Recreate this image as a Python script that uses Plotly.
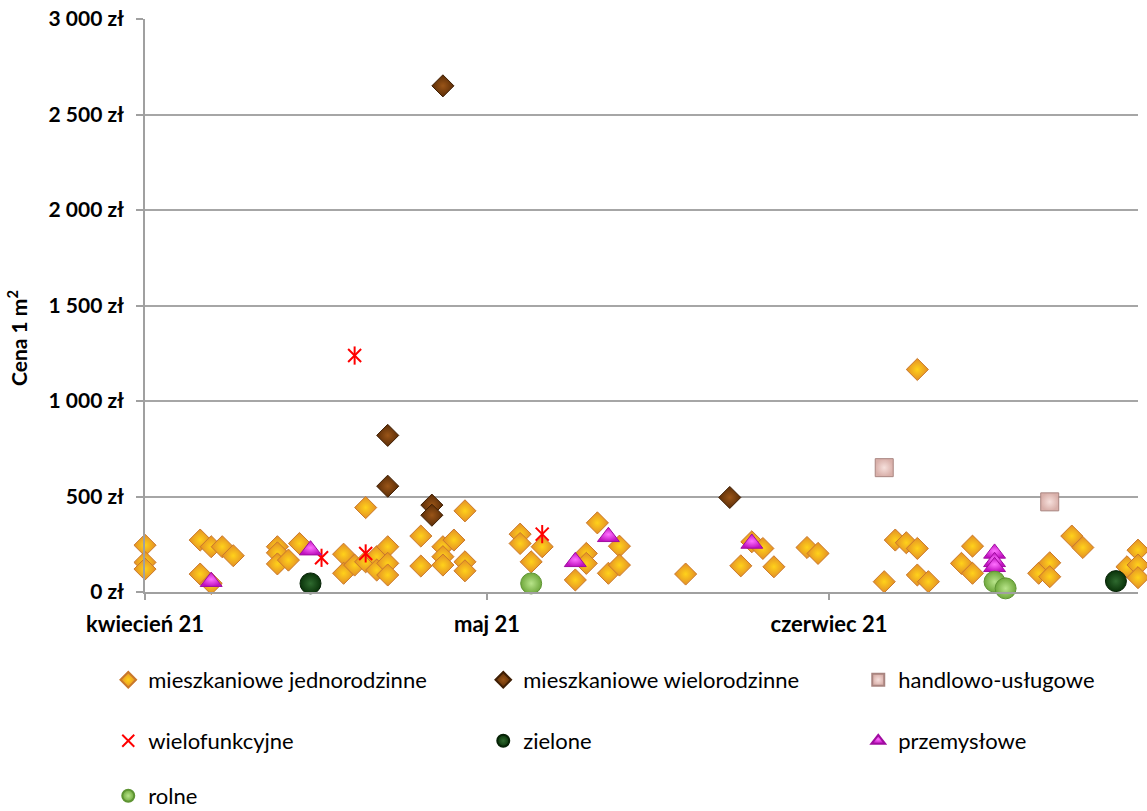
import plotly.graph_objects as go

# --- transaction data: date of sale and price per m2 (zł) by land use ---
jedno_dates = [
    "2021-04-01", "2021-04-01", "2021-04-01", "2021-04-06", "2021-04-06",
    "2021-04-07", "2021-04-07", "2021-04-08", "2021-04-09", "2021-04-13",
    "2021-04-13", "2021-04-13", "2021-04-14", "2021-04-15", "2021-04-19",
    "2021-04-19", "2021-04-20", "2021-04-21", "2021-04-21", "2021-04-22",
    "2021-04-22", "2021-04-23", "2021-04-23", "2021-04-23", "2021-04-26",
    "2021-04-26", "2021-04-28", "2021-04-28", "2021-04-28", "2021-04-29",
    "2021-04-30", "2021-04-30", "2021-04-30", "2021-05-05", "2021-05-05",
    "2021-05-06", "2021-05-07", "2021-05-10", "2021-05-11", "2021-05-11",
    "2021-05-12", "2021-05-13", "2021-05-14", "2021-05-14", "2021-05-20",
    "2021-05-25", "2021-05-26", "2021-05-27", "2021-05-28", "2021-05-31",
    "2021-06-01", "2021-06-07", "2021-06-08", "2021-06-09", "2021-06-10",
    "2021-06-10", "2021-06-10", "2021-06-11", "2021-06-14", "2021-06-15",
    "2021-06-15", "2021-06-21", "2021-06-22", "2021-06-22", "2021-06-24",
    "2021-06-25", "2021-06-29", "2021-06-30", "2021-06-30", "2021-06-30",
]
jedno_values = [
    245, 155, 120, 272, 94,
    237, 45, 237, 190, 237,
    205, 147, 167, 254, 198,
    98, 141, 442, 158, 185,
    115, 237, 150, 89, 293,
    136, 237, 185, 141, 272,
    425, 158, 111, 303, 254,
    158, 237, 63, 202, 150,
    362, 98, 240, 141, 94,
    137, 263, 228, 132, 233,
    202, 54, 272, 258, 1165,
    228, 89, 54, 150, 240,
    98, 98, 153, 80, 293,
    233, 132, 219, 141, 75,
]

wielo_dates = ["2021-04-23", "2021-04-23", "2021-04-27", "2021-04-27", "2021-04-28", "2021-05-24"]
wielo_values = [820, 554, 455, 402, 2650, 495]

handel_dates = ["2021-06-07", "2021-06-22"]
handel_values = [651, 472]

multi_dates = ["2021-04-17", "2021-04-20", "2021-04-21", "2021-05-07"]
multi_values = [179, 1238, 202, 303]

zielone_dates = ["2021-04-16", "2021-06-28"]
zielone_values = [45, 57]

przem_dates = ["2021-04-07", "2021-04-16", "2021-05-10", "2021-05-13", "2021-05-26",
               "2021-06-17", "2021-06-17", "2021-06-17"]
przem_values = [54, 219, 158, 289, 254, 202, 158, 132]

rolne_dates = ["2021-05-06", "2021-06-17", "2021-06-18"]
rolne_values = [45, 54, 19]

# axis ticks
y_tick_vals = [0, 500, 1000, 1500, 2000, 2500, 3000]
y_tick_text = ["0 zł", "500 zł", "1 000 zł", "1 500 zł", "2 000 zł", "2 500 zł", "3 000 zł"]
x_tick_vals = ["2021-04-01", "2021-05-02", "2021-06-02"]
x_tick_text = ["kwiecień 21", "maj 21", "czerwiec 21"]

FONT = "Lato"

fig = go.Figure()


def add_series(name, dates, values, symbol, size, edge, center, line_color,
               legend="legend", line_width=1.0, showlegend=True):
    marker = dict(symbol=symbol, size=size, color=edge,
                  line=dict(color=line_color, width=line_width))
    if center is not None:
        marker["gradient"] = dict(type="radial", color=center)
    fig.add_trace(go.Scatter(
        x=dates, y=values, mode="markers", name=name, marker=marker,
        cliponaxis=False, legend=legend, showlegend=showlegend,
        hovertemplate="%{x|%d.%m.%Y}<br>%{y} zł<extra>" + name + "</extra>",
    ))


add_series("mieszkaniowe jednorodzinne", jedno_dates, jedno_values,
           "diamond", 17, "#E38E25", "#FFD21A", "#C9782C")
add_series("mieszkaniowe wielorodzinne", wielo_dates, wielo_values,
           "diamond", 17, "#5A2C06", "#9A5518", "#3F1F05")
add_series("handlowo-usługowe", handel_dates, handel_values,
           "square", 18, "#D9B0AA", "#F6E0DC", "#A98580", legend="legend")
# star marker: diagonal cross plus a vertical stroke
add_series("wielofunkcyjne", multi_dates, multi_values,
           "x-thin-open", 13, "#FF0000", None, "#FF0000", legend="legend2", line_width=2)
add_series("wielofunkcyjne", multi_dates, multi_values,
           "line-ns-open", 13, "#FF0000", None, "#FF0000", legend="legend2",
           line_width=2, showlegend=False)
add_series("zielone", zielone_dates, zielone_values,
           "circle", 21, "#0A330A", "#2F6A2F", "#062206", legend="legend2")
add_series("przemysłowe", przem_dates, przem_values,
           "triangle-up", 19, "#C010C0", "#FF70FF", "#A00CA0", legend="legend2")
add_series("rolne", rolne_dates, rolne_values,
           "circle", 21, "#6FA83C", "#B8E48A", "#5E9433", legend="legend3")

legend_common = dict(
    orientation="h", entrywidth=330, entrywidthmode="pixels",
    xanchor="left", yanchor="middle", x=-0.037,
    font=dict(family=FONT, size=22, color="black"),
    itemsizing="constant", bgcolor="rgba(0,0,0,0)", borderwidth=0,
    itemclick=False, itemdoubleclick=False,
)

fig.update_layout(
    width=1147, height=811,
    margin=dict(l=145, r=9, t=19, b=219, autoexpand=False),
    paper_bgcolor="white", plot_bgcolor="white",
    font=dict(family=FONT, color="black"),
    legend=dict(legend_common, y=-0.1536),
    legend2=dict(legend_common, y=-0.2600),
    legend3=dict(legend_common, y=-0.3560),
    xaxis=dict(
        type="date", range=["2021-04-01", "2021-06-30"],
        tickvals=x_tick_vals, ticktext=x_tick_text,
        showgrid=False, zeroline=False,
        showline=True, linecolor="#A0A0A0", linewidth=1.5,
        ticks="outside", ticklen=6, tickcolor="#A0A0A0", tickwidth=1.5,
        ticklabelstandoff=6,
        tickfont=dict(family=FONT, size=22, weight="bold", color="black"),
    ),
    yaxis=dict(
        range=[0, 3000], tickvals=y_tick_vals, ticktext=y_tick_text,
        showgrid=True, gridcolor="#A6A6A6", gridwidth=1.5, zeroline=False,
        showline=True, linecolor="#A0A0A0", linewidth=1.5,
        ticks="outside", ticklen=7, tickcolor="#A0A0A0", tickwidth=1.5,
        ticklabelstandoff=8,
        tickfont=dict(family=FONT, size=21, weight="bold", color="black"),
    ),
    annotations=[dict(
        text="Cena 1 m<sup>2</sup>", textangle=-90,
        xref="paper", yref="paper", x=-0.1289, y=0.4433,
        xanchor="center", yanchor="middle", showarrow=False,
        font=dict(family=FONT, size=21, weight="bold", color="black"),
    )],
)

fig.write_html("out.html")
